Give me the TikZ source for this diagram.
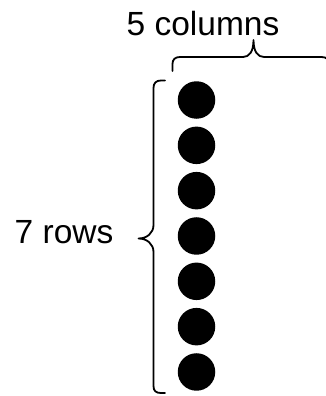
\documentclass[tikz,border=0pt]{standalone}
\usepackage{fontspec}
\setmainfont{Liberation Sans}
\begin{document}
\begin{tikzpicture}[x=1pt,y=-1pt,
  dot/.style={circle,fill=black,draw=none,minimum size=37.5pt,inner sep=0pt},
  bracestyle/.style={line width=1.8pt,line cap=round,line join=round},
  lbl/.style={inner sep=0pt,font=\fontsize{33.5}{40}\selectfont}]
\useasboundingbox (0,0) rectangle (326,396);
\clip (0,0) rectangle (326,396);
\foreach \i in {1,...,7} {
  \node[dot] (d\i) at (196.5,{100+(\i-1)*45.33}) {};
}
\node[lbl,anchor=base west] (rows) at (14.5,243.5) {7 rows};
\node[lbl,anchor=base west] (cols) at (126.5,36) {5 columns};
% left brace
\coordinate (lt) at (165,80.5);
\coordinate (lb) at (165,393);
\coordinate (ltip) at (138.5,238.5);
\draw[bracestyle] (lt) -- (161,80.5) .. controls (156,80.5) and (153.5,83) .. (153.5,88)
  -- (153.5,225) .. controls (153.5,233) and (147,238.5) .. (ltip)
  .. controls (147,238.5) and (153.5,244) .. (153.5,252)
  -- (153.5,386) .. controls (153.5,391) and (156,393) .. (161,393) -- (lb);
% top brace
\coordinate (tl) at (172.5,71);
\coordinate (tr) at (329,71);
\coordinate (ttip) at (253.5,40);
\draw[bracestyle] (tl) -- (172.5,64) .. controls (172.5,59.5) and (175,57) .. (180,57)
  -- (243,57) .. controls (249,57) and (253.5,52) .. (ttip)
  .. controls (253.5,52) and (258,57) .. (264,57)
  -- (321.5,57) .. controls (326.5,57) and (329,59.5) .. (329,64) -- (tr);
\end{tikzpicture}
\end{document}
